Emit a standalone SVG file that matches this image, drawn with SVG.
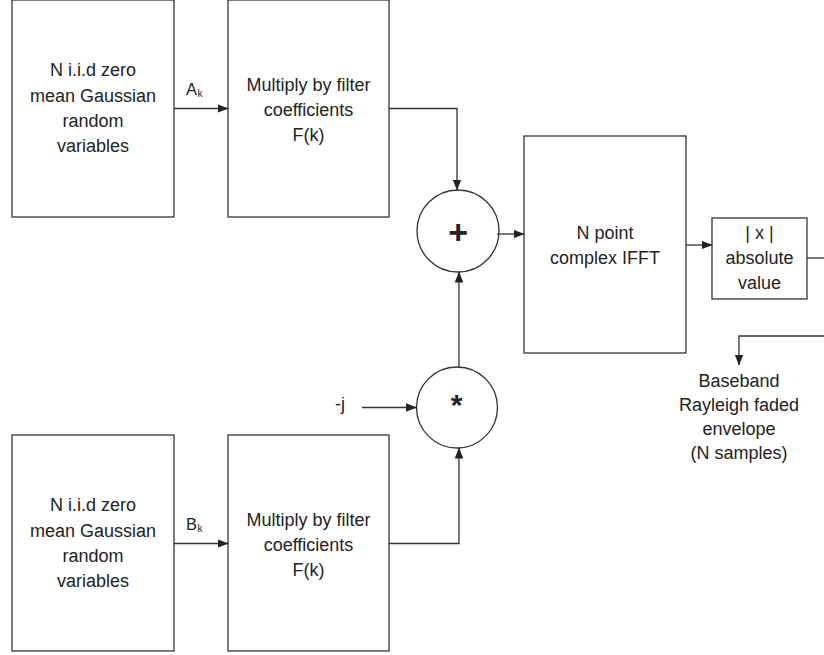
<svg xmlns="http://www.w3.org/2000/svg" width="824" height="655" viewBox="0 0 824 655">
  <style>
    .box { fill: #ffffff; stroke: #333333; stroke-width: 1.3; }
    .wire { fill: none; stroke: #333333; stroke-width: 1.3; }
    .lbl { font-family: "Liberation Sans", Arial, sans-serif; font-size: 18px; fill: #222222; text-anchor: middle; }
    .sig { font-family: "Liberation Sans", Arial, sans-serif; font-size: 16.5px; fill: #222222; }
    .sub { font-size: 10px; }
    .sym { font-family: "Liberation Sans", Arial, sans-serif; font-weight: bold; fill: #222222; text-anchor: middle; }
  </style>
  <defs>
    <marker id="arrow" markerUnits="userSpaceOnUse" markerWidth="11" markerHeight="8.5" refX="10.5" refY="4.25" orient="auto">
      <path d="M0,0 L11,4.25 L0,8.5 Z" fill="#222222"/>
    </marker>
  </defs>
  <rect width="824" height="655" fill="#ffffff"/>

  <!-- upper branch: source A_k -->
  <g id="source-a">
    <rect class="box" x="12" y="0" width="162" height="217"/>
    <text class="lbl" x="93" y="76">N i.i.d zero</text>
    <text class="lbl" x="93" y="101.5">mean Gaussian</text>
    <text class="lbl" x="93" y="126.5">random</text>
    <text class="lbl" x="93" y="152">variables</text>
  </g>
  <g id="filter-a">
    <rect class="box" x="228" y="0" width="161" height="217"/>
    <text class="lbl" x="308.5" y="90.5">Multiply by filter</text>
    <text class="lbl" x="308.5" y="115.5">coefficients</text>
    <text class="lbl" x="308.5" y="140.5">F(k)</text>
  </g>

  <!-- lower branch: source B_k -->
  <g id="source-b">
    <rect class="box" x="12" y="435" width="162" height="216"/>
    <text class="lbl" x="93" y="511">N i.i.d zero</text>
    <text class="lbl" x="93" y="536.5">mean Gaussian</text>
    <text class="lbl" x="93" y="561.5">random</text>
    <text class="lbl" x="93" y="587">variables</text>
  </g>
  <g id="filter-b">
    <rect class="box" x="228" y="435" width="161" height="216"/>
    <text class="lbl" x="308.5" y="525.5">Multiply by filter</text>
    <text class="lbl" x="308.5" y="550.5">coefficients</text>
    <text class="lbl" x="308.5" y="575.5">F(k)</text>
  </g>

  <!-- summing junction -->
  <g id="adder">
    <circle class="box" cx="458" cy="231" r="41"/>
    <text class="sym" x="458.3" y="243.5" font-size="34">+</text>
  </g>

  <!-- multiply by -j -->
  <g id="multiplier">
    <circle class="box" cx="457" cy="407.5" r="40.5"/>
    <text class="sym" x="456.7" y="415" font-size="30">*</text>
  </g>
  <g id="minus-j">
    <text class="lbl" x="340" y="410">-j</text>
  </g>

  <g id="ifft">
    <rect class="box" x="524" y="136" width="162" height="217"/>
    <text class="lbl" x="605" y="238.5">N point</text>
    <text class="lbl" x="605" y="263.5">complex IFFT</text>
  </g>

  <g id="abs">
    <rect class="box" x="712" y="218" width="95" height="81"/>
    <text class="lbl" x="759.5" y="239">| x |</text>
    <text class="lbl" x="759.5" y="264">absolute</text>
    <text class="lbl" x="759.5" y="289">value</text>
  </g>

  <g id="output">
    <text class="lbl" x="739" y="387">Baseband</text>
    <text class="lbl" x="739" y="411">Rayleigh faded</text>
    <text class="lbl" x="739" y="435">envelope</text>
    <text class="lbl" x="739" y="459">(N samples)</text>
  </g>

  <!-- signal labels -->
  <g id="labels">
    <text class="sig" x="186" y="95">A<tspan class="sub" dx="0.5" dy="2">k</tspan></text>
    <text class="sig" x="186" y="530">B<tspan class="sub" dx="0.5" dy="2">k</tspan></text>
  </g>

  <!-- connectors -->
  <g id="connectors">
    <path class="wire" d="M174,108.5 H228" marker-end="url(#arrow)"/>
    <path class="wire" d="M389,108.5 H457 V190" marker-end="url(#arrow)"/>
    <path class="wire" d="M174,543.5 H228" marker-end="url(#arrow)"/>
    <path class="wire" d="M389,543.5 H459 V448" marker-end="url(#arrow)"/>
    <path class="wire" d="M362,407.5 H416.5" marker-end="url(#arrow)"/>
    <path class="wire" d="M459,367 V272" marker-end="url(#arrow)"/>
    <path class="wire" d="M497,234 H524" marker-end="url(#arrow)"/>
    <path class="wire" d="M686,245 H712" marker-end="url(#arrow)"/>
    <path class="wire" d="M807,258 H824"/>
    <path class="wire" d="M824,336 H739 V365" marker-end="url(#arrow)"/>
  </g>
</svg>
